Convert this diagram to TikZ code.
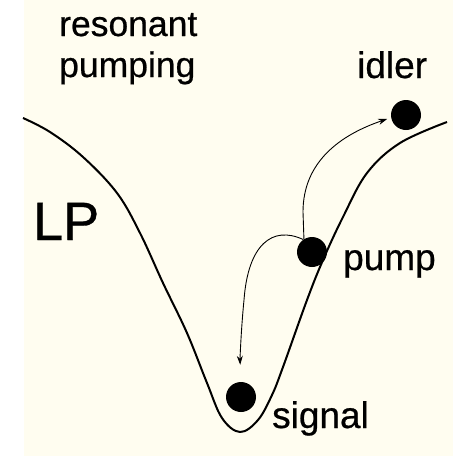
\documentclass[tikz,border=0pt]{standalone}
\usepackage{fontspec}
\setmainfont{Liberation Sans}
\newfontfamily\heavyfont{Liberation Sans}[FakeBold=0.6]
\usetikzlibrary{arrows.meta}
\definecolor{cream}{HTML}{FFFDF0}
\begin{document}
\begin{tikzpicture}[x=1pt,y=-1pt,
  dot/.style={circle,fill=black,minimum size=30pt,inner sep=0pt},
  lbl/.style={anchor=base west,inner sep=0pt},
  well/.style={line width=2pt,line join=round},
  trans/.style={line width=0.9pt,-{Stealth[length=9pt,width=6pt]}}]
\useasboundingbox (0,0) rectangle (453,456);
\fill[white] (0,0) rectangle (453,456);
\fill[cream] (24,0) rectangle (453,456);
% potential well (LP dispersion)
\draw[well] plot[smooth,tension=0.6] coordinates {(23,118) (50,132) (83,157) (117,193) (140,233) (163,283) (187,333) (207,383) (222,418) (240,432) (258,420) (272,395) (283,367) (307,300) (323,260) (343,217) (367,173) (400,143) (447,122)};
% particles
\node[dot] (idler) at (406,115) {};
\node[dot] (pump) at (312,252) {};
\node[dot] (signal) at (241,397) {};
% transitions
\draw[trans,shorten >=4pt] (pump.122) -- (303,212) .. controls (303,162) and (340,135) .. (idler.190);
\draw[trans,shorten >=17pt] (pump.125) .. controls (272,225) and (248,245) .. (244,300) .. controls (241,330) and (240,360) .. (signal.north);
% labels
\node[lbl,font=\heavyfont\fontsize{35.5}{35.5}\selectfont] (t1) at (59,36) {resonant};
\node[lbl,font=\heavyfont\fontsize{35.5}{35.5}\selectfont] (t2) at (59,77) {pumping};
\node[lbl,font=\heavyfont\fontsize{37}{37}\selectfont] (t3) at (357,78) {idler};
\node[lbl,font=\heavyfont\fontsize{54}{54}\selectfont] (t4) at (33,240) {LP};
\node[lbl,font=\heavyfont\fontsize{37}{37}\selectfont] (t5) at (343,270) {pump};
\node[lbl,font=\heavyfont\fontsize{37}{37}\selectfont] (t6) at (272,428) {signal};
\end{tikzpicture}
\end{document}
